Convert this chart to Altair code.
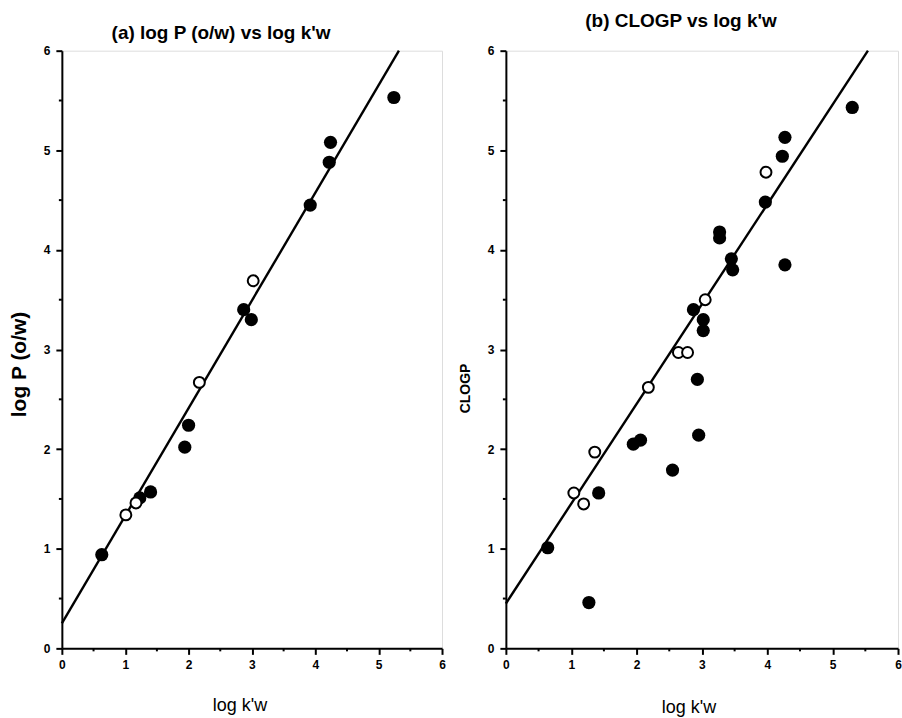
import altair as alt
import pandas as pd

# ---- panel (a): log P (o/w) vs log k'w ----
a_filled_x = [0.63, 1.23, 1.40, 1.94, 2.00, 2.87, 2.99, 3.92, 4.22, 4.24, 5.24]
a_filled_y = [0.94, 1.51, 1.57, 2.02, 2.24, 3.40, 3.30, 4.45, 4.88, 5.08, 5.53]
a_open_x = [1.01, 1.17, 2.17, 3.02]
a_open_y = [1.34, 1.46, 2.67, 3.69]
a_line_x = [0.0, 5.32]
a_line_y = [0.25, 6.0]

# ---- panel (b): CLOGP vs log k'w ----
b_filled_x = [0.64, 1.27, 1.42, 1.95, 2.06, 2.55, 2.95, 2.93, 2.87, 3.02, 3.02,
              3.27, 3.27, 3.45, 3.47, 3.97, 4.23, 4.27, 4.27, 5.30]
b_filled_y = [1.01, 0.46, 1.56, 2.05, 2.09, 1.79, 2.14, 2.70, 3.40, 3.30, 3.19,
              4.18, 4.12, 3.91, 3.80, 4.48, 4.94, 5.13, 3.85, 5.43]
b_open_x = [1.04, 1.19, 1.36, 2.18, 2.64, 2.78, 3.05, 3.98]
b_open_y = [1.56, 1.45, 1.97, 2.62, 2.97, 2.97, 3.50, 4.78]
b_line_x = [0.0, 5.54]
b_line_y = [0.45, 6.0]

major_ticks = [0, 1, 2, 3, 4, 5, 6]
minor_ticks = [0.5, 1.5, 2.5, 3.5, 4.5, 5.5]
x_title = "log k'w"

FONT = "Liberation Sans"
W_A, W_B, H = 381, 393, 599


def make_axis(title, title_x, title_y, orient, title_size, title_weight, title_angle=0):
    return alt.Axis(
        values=major_ticks,
        format="d",
        tickSize=6,
        tickWidth=2,
        tickColor="black",
        domainColor="black",
        domainWidth=2,
        grid=False,
        labelFont=FONT,
        labelFontWeight="bold",
        labelFontSize=12,
        labelColor="black",
        labelFlush=False,
        labelOverlap=False,
        labelPadding=6 if orient == "left" else 5,
        title=title,
        titleFont=FONT,
        titleFontSize=title_size,
        titleFontWeight=title_weight,
        titleColor="black",
        titleX=title_x,
        titleY=title_y,
        titleAngle=title_angle,
        titleAlign="center",
        titleBaseline="middle",
    )


def panel(fx, fy, ox, oy, lx, ly, title, dx, offset, ytitle, ytsize, ytweight,
          yt_x, yt_y, xt_x, xt_y, width, height):
    filled = pd.DataFrame({"x": fx, "y": fy})
    opened = pd.DataFrame({"x": ox, "y": oy})
    line = pd.DataFrame({"x": lx, "y": ly})
    minor = pd.DataFrame({"x": minor_ticks, "y": minor_ticks})
    xs = alt.Scale(domain=[0, 6], nice=False, zero=False)
    ys = alt.Scale(domain=[0, 6], nice=False, zero=False)
    xenc = alt.X("x:Q", scale=xs,
                 axis=make_axis(x_title, xt_x, xt_y, "bottom", 18, "normal"))
    yenc = alt.Y("y:Q", scale=ys,
                 axis=make_axis(ytitle, yt_x, yt_y, "left", ytsize, ytweight, 270))
    l = alt.Chart(line).mark_line(color="black", strokeWidth=2.4).encode(x=xenc, y=yenc)
    mx = alt.Chart(minor).mark_rule(color="black", strokeWidth=2).encode(
        x="x:Q", y=alt.value(height), y2=alt.value(height + 3))
    my = alt.Chart(minor).mark_rule(color="black", strokeWidth=2).encode(
        y="y:Q", x=alt.value(0), x2=alt.value(-3))
    f = alt.Chart(filled).mark_point(shape="circle", filled=True, color="black",
                                     size=175, opacity=1).encode(x="x:Q", y="y:Q")
    o = alt.Chart(opened).mark_point(shape="circle", filled=False, stroke="black",
                                     fill="white", fillOpacity=1, strokeWidth=2,
                                     size=120, opacity=1).encode(x="x:Q", y="y:Q")
    return alt.layer(l, mx, my, f, o).properties(
        width=width, height=height,
        title=alt.TitleParams(text=title, font=FONT, fontSize=19, fontWeight="bold",
                              color="black", anchor="middle", dx=dx, offset=offset),
    )


pa = panel(a_filled_x, a_filled_y, a_open_x, a_open_y, a_line_x, a_line_y,
           "(a) log P (o/w) vs log k'w", -31, 2, "log P  (o/w)", 21, "bold",
           -42, 314, 178, 57, W_A, H)
pb = panel(b_filled_x, b_filled_y, b_open_x, b_open_y, b_line_x, b_line_y,
           "(b) CLOGP vs log k'w", -21, 14, "CLOGP", 14, "bold",
           -40, 338, 183, 59, W_B, H)

chart = alt.hconcat(pa, pb, spacing=12).configure_view(
    stroke="black", strokeWidth=2
).configure(
    background="white", padding={"left": 8, "top": 10, "right": 0, "bottom": 0}
)

chart.save("out.html", embed_options={"renderer": "svg", "actions": False})
